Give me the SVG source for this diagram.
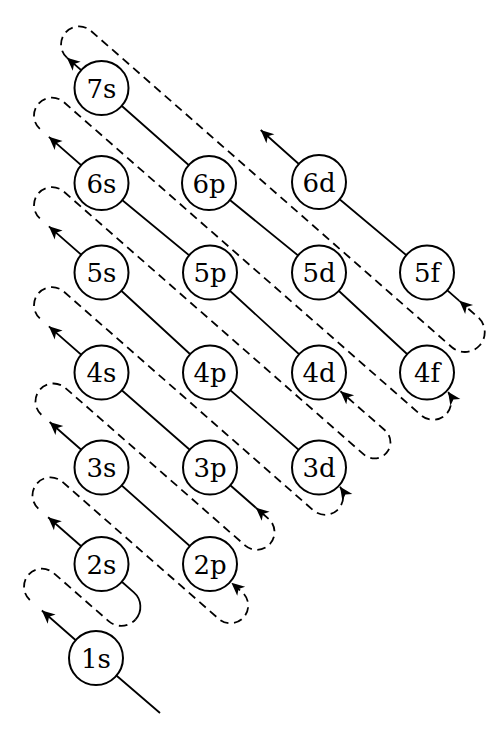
<svg xmlns="http://www.w3.org/2000/svg" width="500" height="734" viewBox="0 0 500 734">
<style>
.ln{fill:none;stroke:#000;stroke-width:1.8}
.ds{fill:none;stroke:#000;stroke-width:1.8;stroke-dasharray:8.5 5.5}
.nd circle{fill:#fff;stroke:#000;stroke-width:2}
.nd text{font-family:"DejaVu Serif","Liberation Serif",serif;font-size:26px;text-anchor:middle;fill:#000}
</style>
<defs>
<marker id="ah" viewBox="-14 -7 15 14" refX="0" refY="0" markerWidth="15" markerHeight="14" markerUnits="userSpaceOnUse" orient="auto">
<path d="M0,0 L-13,-6 L-9.5,0 L-13,6 Z" fill="#000"/>
</marker>
</defs>
<g id="connectors">
<path class="ln" d="M160,713 L96,658 L41.86,610.55" marker-end="url(#ah)"/>
<path class="ln" d="M101.5,564 L48.11,517.21" marker-end="url(#ah)"/>
<path class="ln" d="M210,564 L101.5,467.5 L49.61,422.03" marker-end="url(#ah)"/>
<path class="ln" d="M255.87,507.7 L210,467.5 L101.5,372.5 L48.86,326.37" marker-end="url(#ah)"/>
<path class="ln" d="M319,467.5 L210,372.5 L101.5,272.5 L48.86,226.37" marker-end="url(#ah)"/>
<path class="ln" d="M319,372.5 L210,272.5 L101.5,183 L48.86,136.87" marker-end="url(#ah)"/>
<path class="ln" d="M427,372.5 L319,272.5 L209,183 L101.5,88 L66.91,57.69" marker-end="url(#ah)"/>
<path class="ln" d="M459.34,300.84 L427,272.5 L319,182 L260.7,130" marker-end="url(#ah)"/>
<path class="ds" d="M29.82,600.01 A18,18 0 0 1 53.54,572.94 L108.6,621.14 A19.15,19.15 0 0 0 135.62,619.36"/>
<path class="ln" d="M135.62,619.36 A19.15,19.15 0 0 0 133.84,592.34 L121.8,581.8"/>
<path class="ds" d="M38.33,508.64 A18,18 0 0 1 62.05,481.57 L218.95,619.04 A17.75,17.75 0 0 0 242.34,592.34 L231.43,582.78" marker-end="url(#ah)"/>
<path class="ds" d="M41.34,414.78 A18,18 0 0 1 65.06,387.71 L245.27,545.6 A17.75,17.75 0 0 0 268.66,518.9 L255.87,507.7" marker-end="url(#ah)"/>
<path class="ds" d="M39.84,318.46 A18,18 0 0 1 63.56,291.39 L313.33,510.39 A18,18 0 0 0 340.06,486.72" marker-end="url(#ah)"/>
<path class="ds" d="M39.84,218.46 A18,18 0 0 1 63.56,191.39 L364.03,454.63 A16.05,16.05 0 0 0 385.18,430.49 L340.43,391.28" marker-end="url(#ah)"/>
<path class="ds" d="M39.84,128.96 A18,18 0 0 1 63.56,101.89 L421.33,415.39 A18,18 0 0 0 448.06,391.72" marker-end="url(#ah)"/>
<path class="ds" d="M66.91,57.69 A18,18 0 0 1 90.63,30.62 L451.91,347.24 A19.9,19.9 0 0 0 478.14,317.31 L459.34,300.84" marker-end="url(#ah)"/>
</g>
<g id="n7s" class="nd"><circle cx="101.5" cy="88" r="27"/><text x="101.5" y="97.5">7s</text></g>
<g id="n6s" class="nd"><circle cx="101.5" cy="183" r="27"/><text x="101.5" y="192.5">6s</text></g>
<g id="n6p" class="nd"><circle cx="209" cy="183" r="27"/><text x="209" y="192.5">6p</text></g>
<g id="n6d" class="nd"><circle cx="319" cy="182" r="27"/><text x="319" y="191.5">6d</text></g>
<g id="n5s" class="nd"><circle cx="101.5" cy="272.5" r="27"/><text x="101.5" y="282">5s</text></g>
<g id="n5p" class="nd"><circle cx="210" cy="272.5" r="27"/><text x="210" y="282">5p</text></g>
<g id="n5d" class="nd"><circle cx="319" cy="272.5" r="27"/><text x="319" y="282">5d</text></g>
<g id="n5f" class="nd"><circle cx="427" cy="272.5" r="27"/><text x="427" y="282">5f</text></g>
<g id="n4s" class="nd"><circle cx="101.5" cy="372.5" r="27"/><text x="101.5" y="382">4s</text></g>
<g id="n4p" class="nd"><circle cx="210" cy="372.5" r="27"/><text x="210" y="382">4p</text></g>
<g id="n4d" class="nd"><circle cx="319" cy="372.5" r="27"/><text x="319" y="382">4d</text></g>
<g id="n4f" class="nd"><circle cx="427" cy="372.5" r="27"/><text x="427" y="382">4f</text></g>
<g id="n3s" class="nd"><circle cx="101.5" cy="467.5" r="27"/><text x="101.5" y="477">3s</text></g>
<g id="n3p" class="nd"><circle cx="210" cy="467.5" r="27"/><text x="210" y="477">3p</text></g>
<g id="n3d" class="nd"><circle cx="319" cy="467.5" r="27"/><text x="319" y="477">3d</text></g>
<g id="n2s" class="nd"><circle cx="101.5" cy="564" r="27"/><text x="101.5" y="573.5">2s</text></g>
<g id="n2p" class="nd"><circle cx="210" cy="564" r="27"/><text x="210" y="573.5">2p</text></g>
<g id="n1s" class="nd"><circle cx="96" cy="658" r="27"/><text x="96" y="667.5">1s</text></g>
</svg>
